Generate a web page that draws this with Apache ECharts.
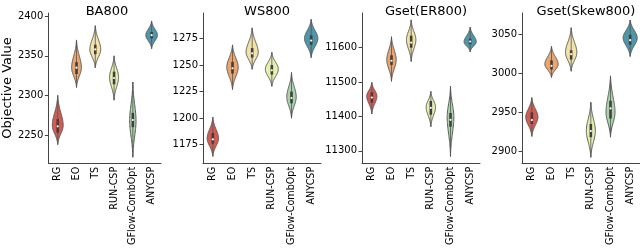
<!DOCTYPE html>
<html><head><meta charset="utf-8">
<script src="https://cdn.jsdelivr.net/npm/echarts@6/dist/echarts.min.js"></script>
<style>html,body{margin:0;padding:0;background:#fff}#c{width:640px;height:248px}</style>
</head><body><div id="c"></div>
<script>
const methods = ['RG','EO','TS','RUN-CSP','GFlow-CombOpt','ANYCSP'];
const titles = ['BA800','WS800','Gset(ER800)','Gset(Skew800)'];
const colors = ['#d45a52','#eda46c','#f3e2a6','#e7efae','#a9d4aa','#4f97a8'];
// each violin: [low tip, q1, median, q3, high tip, density peak, max half-width (fraction of band)]
const ba800 = [
  [2238,2253,2261,2270,2300,2262,0.29],
  [2310,2327,2335,2342,2370,2335,0.26],
  [2335,2352,2358,2364,2388,2358,0.29],
  [2294,2314,2322,2330,2350,2323,0.24],
  [2222,2260,2269,2278,2317,2268,0.17],
  [2359,2372,2376,2380,2394,2376,0.31]
];
const ws800 = [
  [1164,1176,1180,1186,1201,1181,0.29],
  [1227,1242,1247,1253,1269,1248,0.29],
  [1246,1257,1261,1266,1285,1262,0.31],
  [1230,1241,1245,1250,1262,1246,0.33],
  [1200,1214,1219,1225,1243,1220,0.24],
  [1257,1269,1273,1278,1293,1275,0.34]
];
const er800 = [
  [11407,11440,11455,11470,11499,11459,0.26],
  [11502,11550,11562,11578,11632,11565,0.24],
  [11560,11600,11615,11635,11681,11623,0.24],
  [11370,11405,11425,11445,11473,11427,0.24],
  [11283,11370,11390,11410,11488,11398,0.17],
  [11588,11610,11618,11626,11660,11617,0.31]
];
const skew800 = [
  [2919,2935,2940,2950,2969,2944,0.31],
  [2995,3005,3010,3017,3035,3012,0.34],
  [3003,3018,3025,3030,3059,3027,0.29],
  [2892,2918,2926,2935,2963,2926,0.23],
  [2918,2942,2955,2965,2997,2950,0.23],
  [3022,3037,3043,3050,3069,3046,0.36]
];
const panels = [ba800, ws800, er800, skew800];
const yTicks = [[2250,2300,2350,2400],[1175,1200,1225,1250,1275],[11300,11400,11500,11600],[2900,2950,3000,3050]];
const yRange = [[2215,2404],[1158,1299],[11265,11701],[2885,3078]];
const lefts = [43,203,362,522];
const W = 118;

const font = 'DejaVu Sans';
const grids=[], xAxes=[], yAxes=[], series=[], titleArr=[];
panels.forEach((p,i)=>{
  grids.push({left:lefts[i], width:W, top:13, bottom:84});
  titleArr.push({text:titles[i], left:lefts[i]+W/2, top:0, textAlign:'center',
    textStyle:{fontFamily:font,fontSize:13,fontWeight:'normal',color:'#000'}});
  xAxes.push({type:'category', gridIndex:i, data:methods, boundaryGap:true,
    axisLine:{lineStyle:{color:'#444',width:1}},
    axisTick:{alignWithLabel:true,length:3.5,lineStyle:{color:'#444'}},
    axisLabel:{rotate:90,fontFamily:font,fontSize:9.6,color:'#000',margin:4,interval:0}});
  yAxes.push({type:'value', gridIndex:i, min:yRange[i][0], max:yRange[i][1],
    splitLine:{show:false},
    axisLine:{show:true,lineStyle:{color:'#444',width:1}},
    axisTick:{show:true,length:3.5,lineStyle:{color:'#444'},customValues:yTicks[i]},
    axisLabel:{fontFamily:font,fontSize:10,color:'#000',margin:5,customValues:yTicks[i],
      formatter:function(v){return String(v);}},
    name: i===0?'Objective Value':'', nameLocation:'middle', nameGap:29,
    nameTextStyle:{fontFamily:font,fontSize:13,color:'#000'}});
  series.push({type:'custom', xAxisIndex:i, yAxisIndex:i,
    data:p.map((v,j)=>[j].concat(v)),
    encode:{x:0,y:[1,5]},
    renderItem:function(params, api){
      const j=api.value(0), lo=api.value(1), q1=api.value(2), med=api.value(3),
            q3=api.value(4), hi=api.value(5), pk=api.value(6), w=api.value(7);
      const band=api.size([1,0])[0];
      const cx=api.coord([j,med])[0];
      const sl=(pk-lo)/2.4, sh=(hi-pk)/2.4;
      const gEnd=Math.exp(-0.5*2.4*2.4);
      const N=60, right=[], left=[];
      for(let k=0;k<=N;k++){
        const v=lo+(hi-lo)*k/N;
        const z=v<pk?(pk-v)/sl:(v-pk)/sh;
        let g=(Math.exp(-0.5*z*z)-gEnd)/(1-gEnd); if(g<0)g=0;
        const hw=w*band*g;
        const y=api.coord([j,v])[1];
        right.push([cx+hw,y]); left.unshift([cx-hw,y]);
      }
      const c=colors[params.dataIndex];
      const yq1=api.coord([j,q1])[1], yq3=api.coord([j,q3])[1], ym=api.coord([j,med])[1];
      const ylo=api.coord([j,lo])[1], yhi=api.coord([j,hi])[1];
      return {type:'group', children:[
        {type:'polygon', shape:{points:right.concat(left)}, style:{fill:c, stroke:'#5a5a5a', lineWidth:1}},
        {type:'line', shape:{x1:cx,y1:ylo,x2:cx,y2:yhi}, style:{stroke:'#555', lineWidth:0.8}},
        {type:'rect', shape:{x:cx-1.3,y:yq3,width:2.6,height:yq1-yq3}, style:{fill:'#3f3f3f'}},
        {type:'circle', shape:{cx:cx,cy:ym,r:1.1}, style:{fill:'#fff'}}
      ]};
    }
  });
});
const chart=echarts.init(document.getElementById('c'),null,{renderer:'canvas'});
chart.setOption({animation:false, title:titleArr, grid:grids, xAxis:xAxes, yAxis:yAxes, series:series});
</script></body></html>
